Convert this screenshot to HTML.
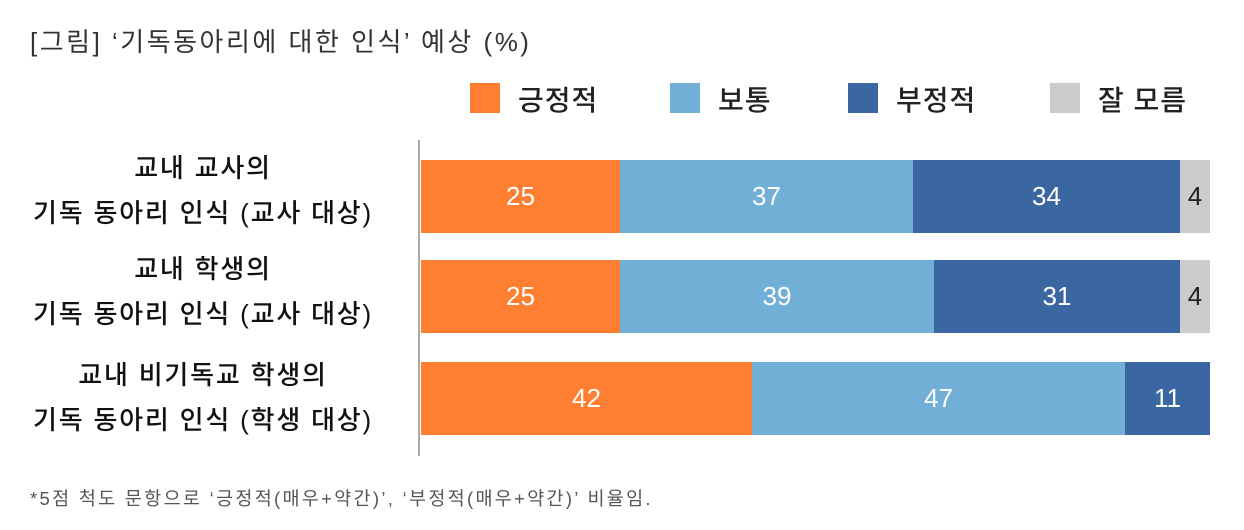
<!DOCTYPE html>
<html><head><meta charset="utf-8"><style>
body{margin:0;width:1244px;height:530px;background:#fff;position:relative;overflow:hidden;font-family:"Liberation Sans","Noto Sans CJK KR",sans-serif;color:#222}
.a{position:absolute;white-space:nowrap}
.t{left:30px;top:22px;font-size:26px;letter-spacing:2.5px;color:#333}
.sq{position:absolute;width:30px;height:30px;top:83px}
.lg{position:absolute;top:79px;font-size:28px;letter-spacing:1px;color:#222;font-weight:500}
.lab{position:absolute;left:3px;width:400px;text-align:center;font-size:26px;letter-spacing:1.8px;line-height:45px;color:#111;font-weight:500}
.bar{position:absolute;left:421px;height:73px;display:flex}
.bar div{height:100%;display:flex;align-items:center;justify-content:center;color:#fff;font-size:26px}
.o{background:#FF7F32}.l{background:#72AFD7}.d{background:#3A66A1}.g{background:#CCCCCC;color:#222!important}
</style></head><body>
<div class="a t">[그림] ‘기독동아리에 대한 인식’ 예상 (%)</div>
<div class="sq" style="left:470px;background:#FF7F32"></div><div class="lg" style="left:518px">긍정적</div>
<div class="sq" style="left:670px;background:#72AFD7"></div><div class="lg" style="left:718px">보통</div>
<div class="sq" style="left:848px;background:#3A66A1"></div><div class="lg" style="left:896px">부정적</div>
<div class="sq" style="left:1050px;background:#CCCCCC"></div><div class="lg" style="left:1098px">잘 모름</div>
<div class="a" style="left:418px;top:140px;width:2px;height:316px;background:#aaa"></div>
<div class="lab" style="top:146px">교내 교사의<br>기독 동아리 인식 (교사 대상)</div>
<div class="lab" style="top:247px">교내 학생의<br>기독 동아리 인식 (교사 대상)</div>
<div class="lab" style="top:353px">교내 비기독교 학생의<br>기독 동아리 인식 (학생 대상)</div>
<div class="bar" style="top:160px"><div class="o" style="width:199px">25</div><div class="l" style="width:293px">37</div><div class="d" style="width:267px">34</div><div class="g" style="width:30px">4</div></div>
<div class="bar" style="top:260px"><div class="o" style="width:199px">25</div><div class="l" style="width:314px">39</div><div class="d" style="width:246px">31</div><div class="g" style="width:30px">4</div></div>
<div class="bar" style="top:362px"><div class="o" style="width:331px">42</div><div class="l" style="width:373px">47</div><div class="d" style="width:85px">11</div></div>
<div class="a" style="left:30px;top:485px;font-size:18.5px;letter-spacing:2.3px;color:#555">*5점 척도 문항으로 ‘긍정적(매우+약간)’, ‘부정적(매우+약간)’ 비율임.</div>
</body></html>
